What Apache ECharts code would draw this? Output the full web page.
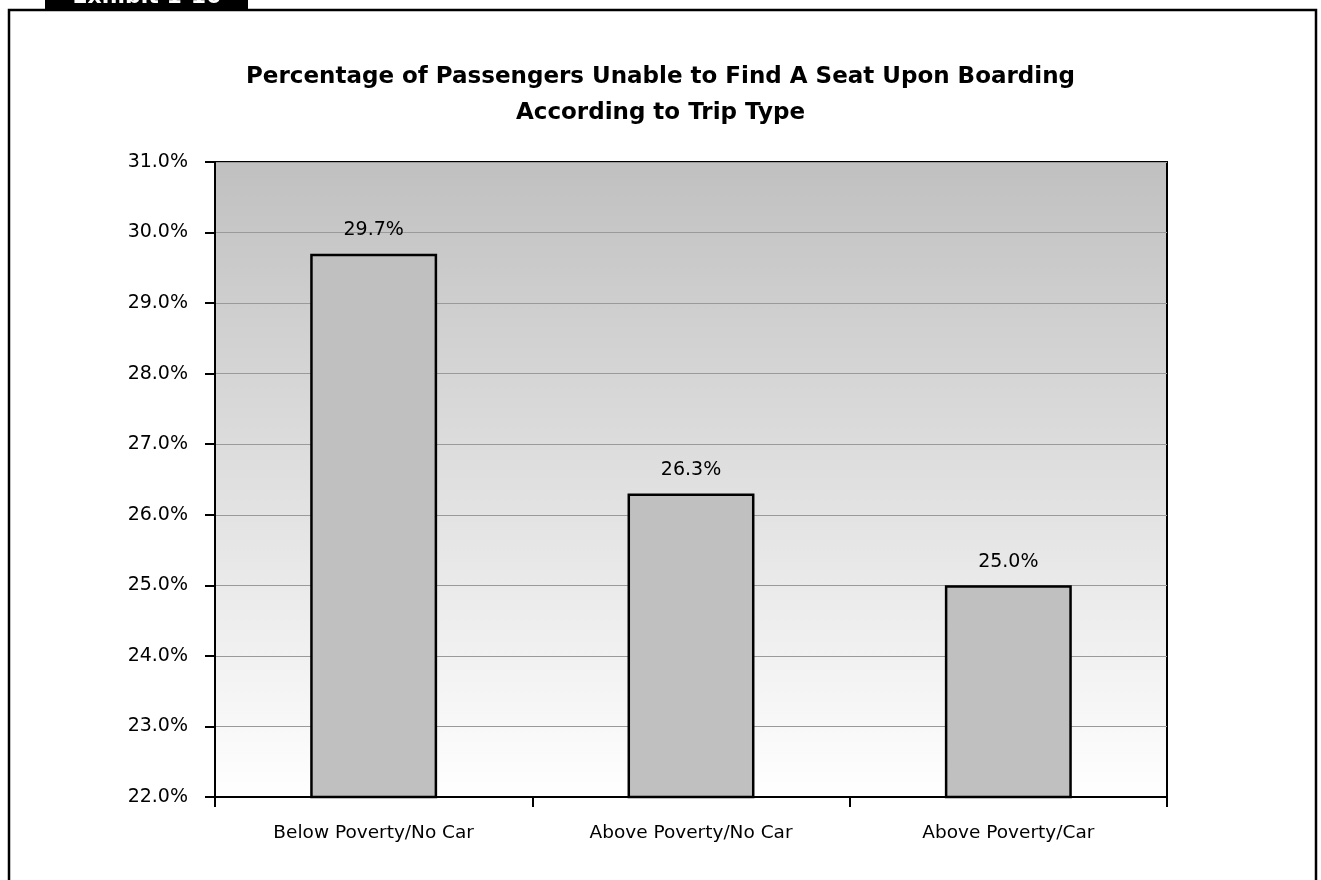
<!DOCTYPE html>
<html>
<head>
<meta charset="utf-8">
<script src="https://cdn.jsdelivr.net/npm/echarts@6/dist/echarts.min.js"></script>
<style>
  html, body { margin: 0; padding: 0; background: #ffffff; }
  #chart { width: 1321px; height: 880px; }
</style>
</head>
<body>
<div id="chart"></div>
<script>
// Trip types and share of riders who could not get a seat when boarding (%)
const categories = ['Below Poverty/No Car', 'Above Poverty/No Car', 'Above Poverty/Car'];
const noSeatShare = [29.7, 26.3, 25.0];

// Value axis range (percent)
const yMin = 22;
const yMax = 31;
const yStep = 1;

const titleLines = [
  'Percentage of Passengers Unable to Find A Seat Upon Boarding',
  'According to Trip Type'
];
const exhibitLabel = 'Exhibit 1-10';

const FONT = '"DejaVu Sans", Verdana, sans-serif';

const chart = echarts.init(document.getElementById('chart'), null, { renderer: 'canvas' });

chart.setOption({
  animation: false,
  backgroundColor: '#ffffff',
  title: {
    text: titleLines.join('\n'),
    left: 'center',
    top: 54,
    textStyle: {
      fontFamily: FONT,
      fontWeight: 'bold',
      fontSize: 23,
      lineHeight: 36,
      color: '#000000'
    }
  },
  graphic: [
    {
      type: 'rect',
      shape: { x: 9, y: 10, width: 1307, height: 900 },
      style: { fill: 'none', stroke: '#000000', lineWidth: 2.5 },
      z: 100
    },
    {
      type: 'rect',
      shape: { x: 45, y: 0, width: 203, height: 10 },
      style: { fill: '#000000' },
      z: 101
    },
    {
      // exhibit tab caption, mostly running off the top edge
      type: 'text',
      x: 147,
      y: 8,
      style: {
        text: exhibitLabel,
        fill: '#ffffff',
        font: 'bold 22px ' + FONT,
        align: 'center',
        verticalAlign: 'bottom'
      },
      z: 102
    }
  ],
  grid: {
    left: 215,
    right: 154,
    top: 162,
    bottom: 83,
    show: true,
    borderColor: '#000000',
    borderWidth: 2,
    backgroundColor: {
      type: 'linear',
      x: 0, y: 0, x2: 0, y2: 1,
      colorStops: [
        { offset: 0, color: '#c0c0c0' },
        { offset: 1, color: '#ffffff' }
      ]
    }
  },
  xAxis: {
    type: 'category',
    data: categories,
    axisLine: { lineStyle: { color: '#000000', width: 2 } },
    axisTick: { show: true, alignWithLabel: false, length: 10, lineStyle: { color: '#000000', width: 2 } },
    axisLabel: { margin: 27, fontFamily: FONT, fontSize: 18.5, color: '#000000' },
    splitLine: { show: false }
  },
  yAxis: {
    type: 'value',
    min: yMin,
    max: yMax,
    interval: yStep,
    axisLine: { show: true, lineStyle: { color: '#000000', width: 2 } },
    axisTick: { show: true, length: 10, lineStyle: { color: '#000000', width: 2 } },
    axisLabel: {
      margin: 27,
      fontFamily: FONT,
      fontSize: 19,
      color: '#000000',
      formatter: v => v.toFixed(1) + '%'
    },
    splitLine: { show: true, lineStyle: { color: '#9a9a9a', width: 1 } }
  },
  series: [
    {
      type: 'bar',
      data: noSeatShare,
      barWidth: '40%',
      itemStyle: { color: '#c0c0c0', borderColor: '#000000', borderWidth: 2.5 },
      label: {
        show: true,
        position: 'top',
        distance: 14,
        fontFamily: FONT,
        fontSize: 19,
        color: '#000000',
        formatter: p => p.value.toFixed(1) + '%'
      }
    }
  ]
});
</script>
</body>
</html>
